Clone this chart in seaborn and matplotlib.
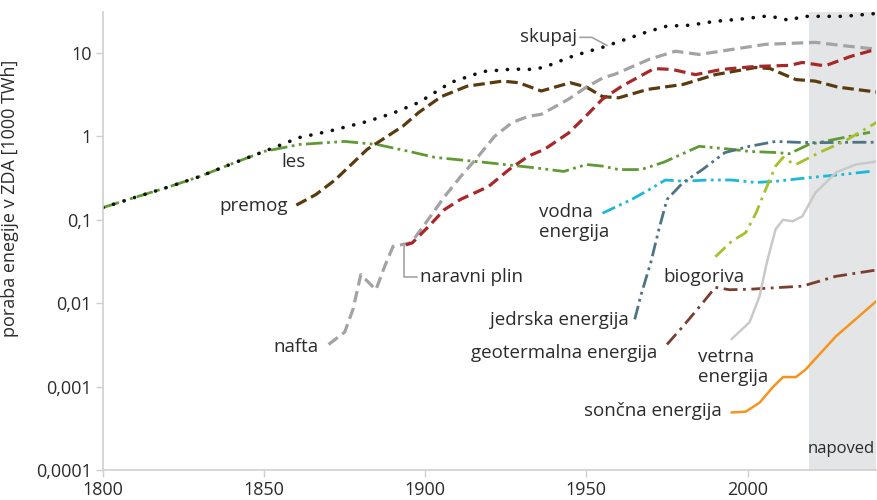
import numpy as np
import pandas as pd
import seaborn as sns
import matplotlib.pyplot as plt
from matplotlib.ticker import FixedLocator, NullLocator

# values (year, 1000 TWh)
skupaj_x = [1800, 1810, 1820, 1830, 1840, 1850, 1861, 1870, 1882, 1890, 1898, 1908, 1918, 1927, 1934, 1938, 1944.5, 1950, 1955, 1962, 1969, 1975, 1982, 1990, 1998, 2005.6, 2009, 2013, 2017, 2021, 2030, 2040]
skupaj_y = [0.14, 0.186, 0.245, 0.33, 0.47, 0.66, 0.97, 1.15, 1.51, 1.9, 2.55, 4.44, 6.0, 6.4, 6.35, 7.0, 8.8, 10.3, 11.7, 14.5, 18.0, 21.0, 21.5, 24.0, 25.5, 27.6, 26.7, 24.6, 27.5, 27.5, 27.5, 29.8]

les_x = [1800, 1810, 1820, 1830, 1840, 1850, 1861, 1875, 1885, 1895, 1903, 1918, 1934, 1943, 1950, 1955, 1960, 1967, 1974, 1985, 1995, 2000.6, 2009, 2013, 2019, 2030, 2038]
les_y = [0.14, 0.186, 0.245, 0.33, 0.47, 0.66, 0.8, 0.87, 0.8, 0.66, 0.56, 0.49, 0.42, 0.38, 0.46, 0.44, 0.40, 0.40, 0.49, 0.76, 0.70, 0.66, 0.64, 0.62, 0.80, 0.97, 1.12]

premog_x = [1860, 1866, 1872, 1882, 1893, 1898, 1905, 1913, 1924, 1929, 1936, 1945, 1950, 1955, 1960, 1969, 1980, 1990, 2002.5, 2007, 2015, 2021, 2028, 2040]
premog_y = [0.15, 0.2, 0.30, 0.70, 1.32, 1.94, 3.0, 4.0, 4.6, 4.4, 3.5, 4.4, 3.9, 3.0, 2.9, 3.66, 4.2, 5.5, 6.7, 6.5, 4.8, 4.6, 3.9, 3.4]

nafta_x = [1870, 1875, 1877.6, 1880, 1884.7, 1887.4, 1890, 1895.6, 1900, 1906, 1911, 1916.5, 1921.5, 1927, 1932, 1936, 1944.5, 1950, 1955, 1959, 1969.5, 1977.6, 1985, 1995, 2005.6, 2021, 2031.8, 2040]
nafta_y = [0.0032, 0.0045, 0.0085, 0.022, 0.0145, 0.0276, 0.048, 0.053, 0.09, 0.19, 0.33, 0.58, 1.0, 1.47, 1.74, 1.84, 2.8, 3.9, 5.0, 5.6, 8.4, 10.5, 9.6, 11.0, 12.7, 13.4, 12.0, 11.1]

plin_x = [1894, 1896, 1901, 1906, 1911, 1919.6, 1926, 1932, 1937, 1944.5, 1949.5, 1955, 1961, 1971, 1976.6, 1983.8, 1992, 2002.5, 2013, 2017, 2024, 2032, 2040]
plin_y = [0.05, 0.053, 0.083, 0.133, 0.176, 0.25, 0.40, 0.58, 0.70, 1.1, 1.7, 2.8, 4.0, 6.5, 6.35, 5.5, 6.35, 6.9, 7.1, 7.7, 7.0, 9.1, 11.1]

vodna_x = [1955, 1964, 1969.5, 1974.5, 1980, 1988, 1995, 2002.5, 2009, 2019, 2029.6, 2038]
vodna_y = [0.12, 0.175, 0.23, 0.30, 0.29, 0.30, 0.30, 0.28, 0.29, 0.32, 0.35, 0.38]

jedrska_x = [1965, 1967, 1970, 1972.5, 1975, 1980, 1986, 1993, 2000.6, 2008.7, 2015, 2021, 2032, 2040]
jedrska_y = [0.0064, 0.0128, 0.031, 0.077, 0.175, 0.28, 0.40, 0.64, 0.76, 0.87, 0.85, 0.84, 0.85, 0.85]

biogoriva_x = [1990, 1995, 1999.4, 2002.6, 2005.6, 2008.7, 2011, 2013, 2015, 2023, 2030, 2040]
biogoriva_y = [0.036, 0.055, 0.07, 0.12, 0.23, 0.44, 0.56, 0.50, 0.46, 0.66, 0.87, 1.47]

geoterm_x = [1975, 1980, 1986, 1990, 1994.4, 2000.6, 2017, 2027.4, 2040]
geoterm_y = [0.0032, 0.0053, 0.010, 0.0155, 0.0145, 0.0147, 0.016, 0.021, 0.025]

vetrna_x = [1995, 2000.6, 2003.7, 2006, 2008.7, 2011, 2014, 2017, 2021, 2027.5, 2033.6, 2040]
vetrna_y = [0.0037, 0.0059, 0.012, 0.031, 0.077, 0.10, 0.096, 0.11, 0.21, 0.37, 0.46, 0.50]

soncna_x = [1995, 1999.4, 2003.7, 2008, 2011, 2015, 2018, 2027.4, 2040]
soncna_y = [0.00049, 0.0005, 0.00064, 0.001, 0.0013, 0.0013, 0.0016, 0.004, 0.0106]

y_ticks = [0.0001, 0.001, 0.01, 0.1, 1, 10]
y_tick_labels = ["0,0001", "0,001", "0,01", "0,1", "1", "10"]
x_ticks = [1800, 1850, 1900, 1950, 2000]

sns.set_style("white")
plt.rcParams["font.family"] = ["Open Sans", "DejaVu Sans"]
txt = "#2b2b2b"

fig = plt.figure(figsize=(8.77, 5.0), dpi=100)
ax = fig.add_axes([0.1174, 0.06, 0.882, 0.916])

ax.axvspan(2019, 2040, color="#e4e5e7", lw=0, zorder=0)

series = [
    (les_x, les_y, "#5f9a33", (0, (6, 1.6, 1, 1.6, 1, 1.6)), 2.0, "butt"),
    (skupaj_x, skupaj_y, "#111111", (0, (0.05, 3.0)), 2.6, "round"),
    (premog_x, premog_y, "#5a3b0f", (0, (3.6, 1.6)), 2.3, "butt"),
    (nafta_x, nafta_y, "#a3a3a5", (0, (3.6, 1.8)), 2.3, "butt"),
    (plin_x, plin_y, "#a8282a", (0, (3.6, 1.8)), 2.3, "butt"),
    (vodna_x, vodna_y, "#1bb8d8", (0, (5, 1.6, 1, 1.6, 1, 1.6)), 2.0, "butt"),
    (jedrska_x, jedrska_y, "#4e7385", (0, (5, 1.6, 1, 1.6, 1, 1.6)), 2.0, "butt"),
    (biogoriva_x, biogoriva_y, "#a5c02a", (0, (5, 2, 1, 2)), 2.0, "butt"),
    (geoterm_x, geoterm_y, "#7a3e2e", (0, (5, 2, 1, 2)), 2.0, "butt"),
    (vetrna_x, vetrna_y, "#c9c9c9", "-", 1.8, "round"),
    (soncna_x, soncna_y, "#f7941d", "-", 1.8, "round"),
]
for xs, ys, col, ls, lw, cap in series:
    df = pd.DataFrame({"leto": xs, "poraba": ys})
    sns.lineplot(data=df, x="leto", y="poraba", ax=ax, color=col, linestyle=ls,
                 linewidth=lw, sort=False, estimator=None, dash_capstyle=cap,
                 solid_capstyle=cap)

ax.set_yscale("log")
ax.set_xlim(1800, 2040)
ax.set_ylim(0.0001, 31)
ax.yaxis.set_major_locator(FixedLocator(y_ticks))
ax.yaxis.set_minor_locator(NullLocator())
ax.set_yticklabels(y_tick_labels)
ax.set_xticks(x_ticks)
ax.tick_params(axis="both", direction="out", length=5, width=1, color="#cfcfcf",
               labelsize=13, labelcolor=txt, pad=3, left=True, bottom=True)
for s in ["top", "right"]:
    ax.spines[s].set_visible(False)
for s in ["left", "bottom"]:
    ax.spines[s].set_color("#cfcfcf")
    ax.spines[s].set_linewidth(1.2)

ax.set_xlabel("")
ax.set_ylabel("poraba enegije v ZDA [1000 TWh]", fontsize=13, color=txt)
ax.yaxis.set_label_coords(-0.108, 0.594)

fs = 13.5
ax.text(1947, 15.4, "skupaj", fontsize=fs, color=txt, ha="right", va="center")
ax.plot([1948, 1951.7, 1956.4], [15.4, 15.4, 12.3], color="#a3a3a5", lw=1.2)
ax.text(1859, 0.49, "les", fontsize=fs, color=txt, ha="center", va="center")
ax.text(1857.5, 0.145, "premog", fontsize=fs, color=txt, ha="right", va="center")
ax.text(1867, 0.003, "nafta", fontsize=fs, color=txt, ha="right", va="center")
ax.plot([1893.5, 1893.5, 1897.5], [0.05, 0.0205, 0.0205], color="#a3a3a5", lw=1.2)
ax.text(1898.5, 0.0205, "naravni plin", fontsize=fs, color=txt, ha="left", va="center")
ax.text(1935.4, 0.093, "vodna\nenergija", fontsize=fs, color=txt, ha="left", va="center",
        linespacing=1.15)
ax.text(1974, 0.0205, "biogoriva", fontsize=fs, color=txt, ha="left", va="center")
ax.text(1963, 0.0063, "jedrska energija", fontsize=fs, color=txt, ha="right", va="center")
ax.text(1972, 0.0025, "geotermalna energija", fontsize=fs, color=txt, ha="right", va="center")
ax.text(1984.5, 0.0017, "vetrna\nenergija", fontsize=fs, color=txt, ha="left", va="center",
        linespacing=1.15)
ax.text(1992, 0.00051, "sončna energija", fontsize=fs, color=txt, ha="right", va="center")
ax.text(2039.6, 0.00018, "napoved", fontsize=12, color=txt, ha="right", va="center")

fig.savefig("out.png", dpi=100)
plt.close(fig)
